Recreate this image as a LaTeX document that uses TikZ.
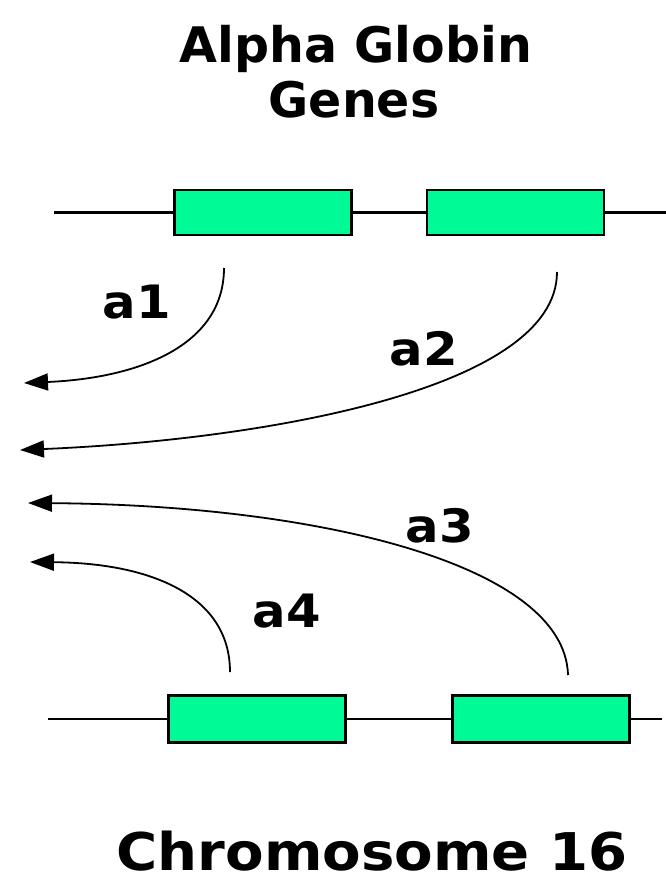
\documentclass[tikz,border=0pt]{standalone}
\usepackage{fontspec}
\setmainfont{DejaVu Sans}
\newfontfamily\pixfont[FakeStretch=1.08]{DejaVu Sans Bold}
\newfontfamily\pixtitle{DejaVu Sans Bold}
\usetikzlibrary{arrows.meta}
\definecolor{genegreen}{RGB}{0,250,150}
\begin{document}
\begin{tikzpicture}[x=1pt,y=-1pt,
  gene/.style={draw=black,line width=2.4pt,fill=genegreen,minimum width=177pt,minimum height=45pt,inner sep=0pt},
  dna/.style={line width=2.4pt},
  tr/.style={line width=1.8pt,-{Triangle[length=24pt,width=17pt]}},
  lab/.style={font=\pixfont\fontsize{46}{46}\selectfont,anchor=base,inner sep=0pt},
  ttl/.style={font=\pixtitle\fontsize{49}{49}\selectfont,anchor=base,inner sep=0pt}]
\useasboundingbox (0,0) rectangle (666,881);
% titles
\node[ttl] (t1) at (356,62) {Alpha Globin};
\node[ttl] (t2) at (354,117) {Genes};
\node[font=\pixfont\fontsize{52}{52}\selectfont,anchor=base,inner sep=0pt,text depth=0pt] (chr) at (372,870) {Chromosome 16};
% top gene row
\node[gene] (g1) at (263,212.5) {};
\node[gene] (g2) at (515.5,212.5) {};
\coordinate (tl) at (54,212.5);
\coordinate (tr) at (666,212.5);
\draw[dna] (tl) -- (g1.west);
\draw[dna] (g1.east) -- (g2.west);
\draw[dna] (g2.east) -- (tr);
% bottom gene row
\node[gene,minimum height=47pt] (g3) at (257,719) {};
\node[gene,minimum height=47pt] (g4) at (541,719) {};
\coordinate (bl) at (48,719);
\coordinate (br) at (662,719);
\draw[dna] (bl) -- (g3.west);
\draw[dna] (g3.east) -- (g4.west);
\draw[dna] (g4.east) -- (br);
% arrows
\coordinate (s1) at (224,268);
\coordinate (e1) at (24,383);
\coordinate (s2) at (557,272);
\coordinate (e2) at (20,450);
\coordinate (s3) at (568,675);
\coordinate (e3) at (28,503);
\coordinate (s4) at (230,672);
\coordinate (e4) at (30,562);
\draw[tr] (s1) .. controls (224,345) and (140,378) .. (e1);
\draw[tr] (s2) .. controls (557,390) and (260,440) .. (e2);
\draw[tr] (s3) .. controls (565,565) and (320,505) .. (e3);
\draw[tr] (s4) .. controls (230,595) and (150,563) .. (e4);
% labels
\node[lab] (a1) at (137,318) {a1};
\node[lab] (a2) at (424,365) {a2};
\node[lab] (a3) at (440,542) {a3};
\node[lab] (a4) at (287,627) {a4};
\end{tikzpicture}
\end{document}
